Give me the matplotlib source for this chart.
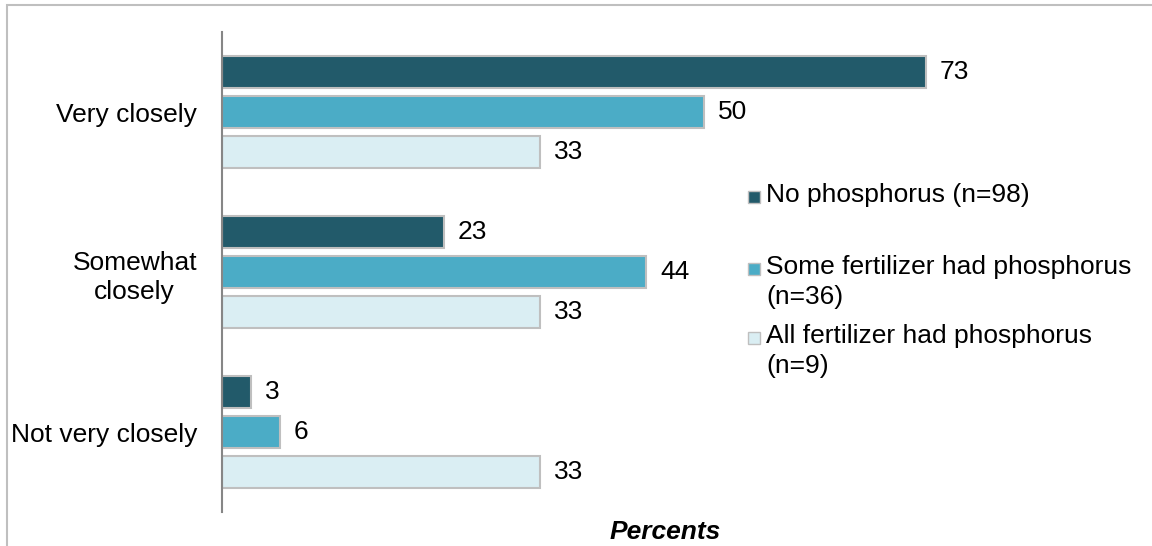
import matplotlib.pyplot as plt
import matplotlib.patches as mpatches
import numpy as np

plt.rcParams['font.family'] = ['Liberation Sans', 'DejaVu Sans']

categories = ['Very closely', 'Somewhat\nclosely', 'Not very closely']
series_names = ['No phosphorus (n=98)',
                'Some fertilizer had phosphorus\n(n=36)',
                'All fertilizer had phosphorus\n(n=9)']
no_phosphorus = [73, 23, 3]
some_phosphorus = [50, 44, 6]
all_phosphorus = [33, 33, 33]

colors = ['#225A6A', '#4BACC6', '#DAEEF3']
W, H = 1152, 546
FS = 19

fig = plt.figure(figsize=(W / 100, H / 100), dpi=100)
ax = fig.add_axes([222 / W, (H - 512) / H, (1108 - 222) / W, 480 / H])

y = np.arange(len(categories))
offsets = [-0.25, 0, 0.25]
for vals, off, col in zip([no_phosphorus, some_phosphorus, all_phosphorus], offsets, colors):
    bars = ax.barh(y + off, vals, height=0.195, color=col, edgecolor='#BFBFBF', linewidth=1.5)
    for b, v in zip(bars, vals):
        ax.annotate(str(v), (b.get_width(), b.get_y() + b.get_height() / 2),
                    xytext=(14, 0), textcoords='offset pixels',
                    va='center', ha='left', fontsize=FS, color='#000000')

ax.set_xlim(0, 91.9)
ax.set_ylim(2.5, -0.5)
ax.set_yticks(y)
ax.set_yticklabels(categories, fontsize=FS, multialignment='center', linespacing=1.3)
ax.tick_params(axis='y', length=0, pad=18)
ax.set_xticks([])
for s in ['top', 'right', 'bottom']:
    ax.spines[s].set_visible(False)
ax.spines['left'].set_color('#868686')
ax.spines['left'].set_linewidth(1.5)
ax.set_xlabel('Percents', fontsize=FS, fontweight='bold', fontstyle='italic', labelpad=6)

# legend drawn by hand so the swatches line up with the first text line
legend_rows = [197, 269, 338]
for name, col, ly in zip(series_names, colors, legend_rows):
    fig.patches.append(mpatches.Rectangle((748 / W, (H - ly - 6) / H), 12 / W, 12 / H,
                                          transform=fig.transFigure, facecolor=col,
                                          edgecolor='#BFBFBF', linewidth=1))
    fig.text(766 / W, (H - ly + 14) / H, name, fontsize=FS, va='top', ha='left',
             linespacing=1.3)

# outer chart border
fig.patches.append(mpatches.Rectangle((7 / W, -0.2), 1.2, 1.2 - 5 / H,
                                      transform=fig.transFigure, fill=False,
                                      edgecolor='#BFBFBF', linewidth=1.5))

fig.savefig('out.png', dpi=100)
